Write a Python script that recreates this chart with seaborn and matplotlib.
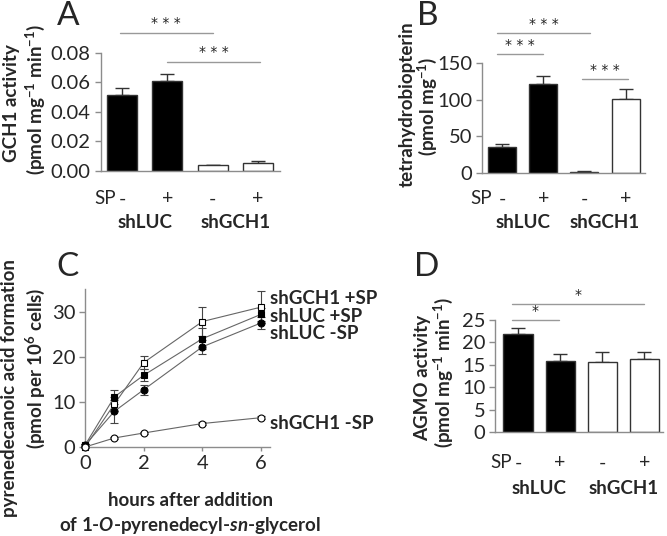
import numpy as np
import pandas as pd
import matplotlib
matplotlib.use('Agg')
import matplotlib.pyplot as plt
import seaborn as sns

# bar panels (A, B, D) share the same 4 conditions
groups = ['shLUC', 'shLUC', 'shGCH1', 'shGCH1']
sp = ['-', '+', '-', '+']

# A: GCH1 activity (pmol mg-1 min-1)
gch1_act = [0.0515, 0.0605, 0.0038, 0.0055]
gch1_err = [0.0042, 0.0052, 0.0002, 0.0010]

# B: tetrahydrobiopterin (pmol mg-1)
bh4 = [35, 121, 2, 101]
bh4_err = [4, 11, 0.8, 14]

# D: AGMO activity (pmol mg-1 min-1)
agmo = [21.8, 15.8, 15.6, 16.3]
agmo_err = [1.5, 1.5, 2.2, 1.6]

# C: pyrenedecanoic acid formation time course
hours = [0, 1, 2, 4, 6]
series_names = ['shGCH1 +SP', 'shLUC +SP', 'shLUC -SP', 'shGCH1 -SP']
gch1_sp = [0.0, 9.5, 18.7, 27.8, 31.0]
gch1_sp_err = [0.3, 1.5, 1.5, 3.3, 3.5]
luc_sp = [0.4, 11.1, 15.9, 24.0, 29.4]
luc_sp_err = [0.3, 1.6, 1.3, 2.3, 1.5]
luc_nosp = [0.4, 7.9, 12.7, 22.2, 27.5]
luc_nosp_err = [0.3, 2.5, 1.1, 1.5, 1.4]
gch1_nosp = [0.0, 2.0, 3.1, 5.2, 6.5]
gch1_nosp_err = [0.1, 0.2, 0.2, 0.3, 0.3]

sns.set_style('ticks')
plt.rcParams['font.family'] = ['Lato', 'DejaVu Sans']
plt.rcParams['mathtext.fontset'] = 'custom'
plt.rcParams['mathtext.rm'] = 'Lato:bold'
plt.rcParams['mathtext.it'] = 'Lato:italic:bold'
plt.rcParams['mathtext.bf'] = 'Lato:bold'
plt.rcParams['mathtext.default'] = 'rm'

W, H = 667, 536
fig = plt.figure(figsize=(W / 100, H / 100), dpi=100)

GREY = '#8c8c8c'
DARK = '#333333'
TICK_FS = 14.5
LAB_FS = 13.5


def px_axes(l, t, r, b):
    return fig.add_axes([l / W, 1 - b / H, (r - l) / W, (b - t) / H])


def ftext(x, y, s, **kw):
    fig.text(x / W, 1 - y / H, s, **kw)


def style_axes(ax):
    sns.despine(ax=ax)
    for side in ['left', 'bottom']:
        ax.spines[side].set_color(GREY)
        ax.spines[side].set_linewidth(1)
    ax.tick_params(axis='both', direction='out', length=4, width=1, color=GREY,
                   labelsize=TICK_FS, pad=3)


def bar_panel(ax, vals, errs, xlim, ylim, yticks, fmt, width, sp_dy, grp_dy, sp_x):
    df = pd.DataFrame({'cond': [g + ' ' + s for g, s in zip(groups, sp)],
                       'group': groups, 'val': vals})
    sns.barplot(data=df, x='cond', y='val', hue='group',
                palette={'shLUC': 'black', 'shGCH1': 'white'},
                width=width, edgecolor=DARK, linewidth=1, errorbar=None,
                legend=False, ax=ax, zorder=2)
    ax.errorbar(np.arange(4), vals, yerr=[np.zeros(4), errs], fmt='none',
                ecolor=DARK, elinewidth=1, capsize=5, capthick=1, zorder=1)
    ax.set_xlim(*xlim)
    ax.set_ylim(*ylim)
    ax.set_yticks(yticks)
    ax.set_yticklabels([fmt % v for v in yticks])
    ax.set_xlabel('')
    ax.set_ylabel('')
    style_axes(ax)
    ax.tick_params(axis='x', length=0)
    ax.set_xticks([])
    tr = ax.get_xaxis_transform()
    for i, s in enumerate(sp):
        ax.annotate(s, xy=(i, 0), xycoords=tr, xytext=(0, -sp_dy * 0.72),
                    textcoords='offset points', ha='center', va='center', fontsize=14)
    ax.annotate('SP', xy=(sp_x, 0), xycoords=tr, xytext=(0, -sp_dy * 0.72),
                textcoords='offset points', ha='center', va='center', fontsize=13.5)
    for x, g in [(0.5, 'shLUC'), (2.5, 'shGCH1')]:
        ax.annotate(g, xy=(x, 0), xycoords=tr, xytext=(0, -grp_dy * 0.72),
                    textcoords='offset points', ha='center', va='center',
                    fontsize=LAB_FS, fontweight='bold')


def sig(ax, x0, x1, y, stars):
    ax.plot([x0, x1], [y, y], color='#999999', lw=1, clip_on=False)
    ax.annotate(' '.join(stars), xy=((x0 + x1) / 2, y), xytext=(0, 1.5),
                textcoords='offset points', ha='center', va='bottom',
                fontsize=10, family='DejaVu Sans', color='#222222',
                annotation_clip=False)


# ---- A ----
axA = px_axes(100.5, 52.5, 280, 171)
bar_panel(axA, gch1_act, gch1_err, (-0.48, 3.49), (0, 0.08),
          [0, 0.02, 0.04, 0.06, 0.08], '%.2f', 0.66, 28, 51, -0.38)
sig(axA, -0.05, 2.0, 0.0935, '***')
sig(axA, 0.99, 3.05, 0.0739, '***')

# ---- B ----
axB = px_axes(482, 63, 645, 173)
bar_panel(axB, bh4, bh4_err, (-0.49, 3.47), (0, 150),
          [0, 50, 100, 150], '%d', 0.68, 26, 49, -0.51)
sig(axB, -0.12, 2.14, 191, '***')
sig(axB, -0.12, 1.0, 162, '***')
sig(axB, 1.94, 3.06, 128, '***')

# ---- D ----
axD = px_axes(495, 320, 663, 432)
bar_panel(axD, agmo, agmo_err, (-0.545, 3.44), (0, 25),
          [0, 5, 10, 15, 20, 25], '%d', 0.69, 31, 56, -0.40)
sig(axD, -0.14, 2.99, 28.6, '*')
sig(axD, -0.14, 0.97, 25.0, '*')

# ---- C ----
axC = px_axes(85, 289, 270, 447)
c_vals = [gch1_sp, luc_sp, luc_nosp, gch1_nosp]
c_errs = [gch1_sp_err, luc_sp_err, luc_nosp_err, gch1_nosp_err]
c_markers = ['s', 's', 'o', 'o']
c_faces = ['white', 'black', 'black', 'white']
c_label_y = [33.0, 28.8, 25.2, 5.3]
for vals, errs, m, fc in zip(c_vals, c_errs, c_markers, c_faces):
    axC.errorbar(hours, vals, yerr=errs, fmt='none', ecolor='#444444',
                 elinewidth=0.8, capsize=3, capthick=0.8, zorder=1, clip_on=False)
for vals, m, fc in zip(c_vals, c_markers, c_faces):
    sns.lineplot(x=hours, y=vals, ax=axC, color='#666666', lw=0.8, marker=m,
                 markersize=5, markerfacecolor=fc, markeredgecolor='black',
                 markeredgewidth=0.8, zorder=3, clip_on=False)
for name, ly in zip(series_names, c_label_y):
    axC.text(6.3, ly, name, ha='left', va='center', fontsize=LAB_FS,
             fontweight='bold', clip_on=False)
axC.set_xlim(0, 6.3)
axC.set_ylim(0, 35)
axC.set_xticks([0, 2, 4, 6])
axC.set_yticks([0, 10, 20, 30])
style_axes(axC)
axC.tick_params(axis='x', length=3)

# ---- axis labels and panel letters ----
lab = dict(rotation=90, ha='center', va='center', fontsize=LAB_FS, fontweight='bold')
ftext(12, 103, 'GCH1 activity', **lab)
ftext(35, 100, '(pmol mg$^{-1}$ min$^{-1}$)', **lab)
ftext(407, 104, 'tetrahydrobiopterin', **lab)
ftext(427, 106, '(pmol mg$^{-1}$)', **lab)
ftext(10, 388, 'pyrenedecanoic acid formation', **lab)
ftext(35, 368, '(pmol per 10$^{6}$ cells)', **lab)
ftext(423, 378, 'AGMO activity', **lab)
ftext(443, 373, '(pmol mg$^{-1}$ min$^{-1}$)', **lab)
ftext(191, 500, 'hours after addition', ha='center', va='center',
      fontsize=LAB_FS, fontweight='bold')
ftext(190, 525, 'of 1-$\\mathit{O}$-pyrenedecyl-$\\mathit{sn}$-glycerol', ha='center',
      va='center', fontsize=LAB_FS, fontweight='bold')

for letter, x, y in [('A', 68, 16), ('B', 428, 16), ('C', 68, 267), ('D', 427, 267)]:
    ftext(x, y, letter, ha='center', va='center', fontsize=24)

fig.savefig('out.png', dpi=100)
